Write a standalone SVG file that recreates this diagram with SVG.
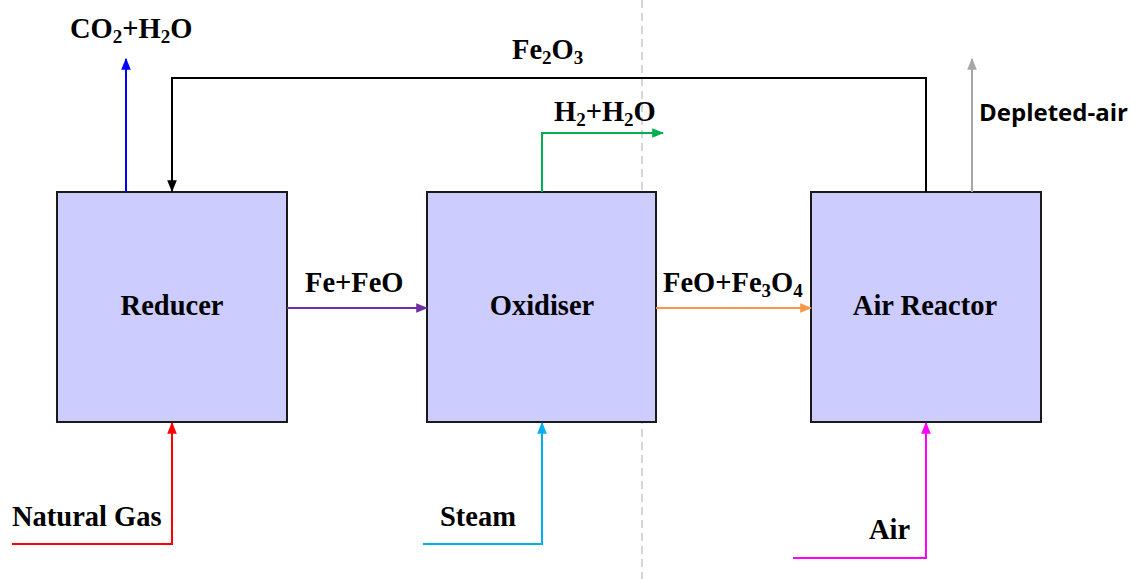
<svg xmlns="http://www.w3.org/2000/svg" width="1137" height="579" viewBox="0 0 1137 579">
<style>
.box{fill:#ccccff;stroke:#1a1a1a;stroke-width:2}
.lbl{font-family:"Liberation Serif","Times New Roman",serif;font-weight:bold;font-size:28.5px;fill:#000}
.sub{font-size:19px}
.ln{fill:none;stroke-width:2}
.sans{font-family:"Open Sans","Liberation Sans",sans-serif;font-weight:bold;font-size:24px;fill:#000}
</style>
<defs>
<marker id="aBlack" markerUnits="userSpaceOnUse" markerWidth="12" markerHeight="12" refX="9" refY="5" orient="auto" viewBox="0 0 10 10"><path d="M0,1 L10,5 L0,9 z" fill="#000"/></marker>
<marker id="aBlue" markerUnits="userSpaceOnUse" markerWidth="12" markerHeight="12" refX="9" refY="5" orient="auto" viewBox="0 0 10 10"><path d="M0,1 L10,5 L0,9 z" fill="#0000ff"/></marker>
<marker id="aGreen" markerUnits="userSpaceOnUse" markerWidth="12" markerHeight="12" refX="9" refY="5" orient="auto" viewBox="0 0 10 10"><path d="M0,1 L10,5 L0,9 z" fill="#00b050"/></marker>
<marker id="aGray" markerUnits="userSpaceOnUse" markerWidth="12" markerHeight="12" refX="9" refY="5" orient="auto" viewBox="0 0 10 10"><path d="M0,1 L10,5 L0,9 z" fill="#a6a6a6"/></marker>
<marker id="aPurple" markerUnits="userSpaceOnUse" markerWidth="12" markerHeight="12" refX="9" refY="5" orient="auto" viewBox="0 0 10 10"><path d="M0,1 L10,5 L0,9 z" fill="#7030a0"/></marker>
<marker id="aOrange" markerUnits="userSpaceOnUse" markerWidth="12" markerHeight="12" refX="9" refY="5" orient="auto" viewBox="0 0 10 10"><path d="M0,1 L10,5 L0,9 z" fill="#f79646"/></marker>
<marker id="aRed" markerUnits="userSpaceOnUse" markerWidth="12" markerHeight="12" refX="9" refY="5" orient="auto" viewBox="0 0 10 10"><path d="M0,1 L10,5 L0,9 z" fill="#ff0000"/></marker>
<marker id="aCyan" markerUnits="userSpaceOnUse" markerWidth="12" markerHeight="12" refX="9" refY="5" orient="auto" viewBox="0 0 10 10"><path d="M0,1 L10,5 L0,9 z" fill="#00b0f0"/></marker>
<marker id="aMag" markerUnits="userSpaceOnUse" markerWidth="12" markerHeight="12" refX="9" refY="5" orient="auto" viewBox="0 0 10 10"><path d="M0,1 L10,5 L0,9 z" fill="#ff00ff"/></marker>
</defs>
<rect width="1137" height="579" fill="#fff"/>
<line x1="642" y1="0" x2="642" y2="579" stroke="#bfbfbf" stroke-width="1.3" stroke-dasharray="8,5"/>

<g id="reducer"><rect class="box" x="57" y="192" width="230" height="230"/><text class="lbl" x="172" y="315" text-anchor="middle">Reducer</text></g>
<g id="oxidiser"><rect class="box" x="427" y="192" width="229" height="230"/><text class="lbl" x="542" y="315" text-anchor="middle">Oxidiser</text></g>
<g id="air-reactor"><rect class="box" x="811" y="192" width="230" height="230"/><text class="lbl" x="925" y="315" text-anchor="middle">Air Reactor</text></g>

<g id="connectors">
<path class="ln" d="M126,192 V59" stroke="#0000ff" marker-end="url(#aBlue)"/>
<path class="ln" d="M926,192 V78 H172 V191" stroke="#000" marker-end="url(#aBlack)"/>
<path class="ln" d="M542,192 V133 H663" stroke="#00b050" marker-end="url(#aGreen)"/>
<path class="ln" d="M972,192 V59" stroke="#a6a6a6" marker-end="url(#aGray)"/>
<path class="ln" d="M287,308 H427" stroke="#7030a0" marker-end="url(#aPurple)"/>
<path class="ln" d="M656,308 H811" stroke="#f79646" marker-end="url(#aOrange)"/>
<path class="ln" d="M12,544 H172 V423" stroke="#ff0000" marker-end="url(#aRed)"/>
<path class="ln" d="M423,544 H542 V423" stroke="#00b0f0" marker-end="url(#aCyan)"/>
<path class="ln" d="M793,558 H926 V423" stroke="#ff00ff" marker-end="url(#aMag)"/>
</g>

<g id="labels">
<text class="lbl" x="70" y="38">CO<tspan class="sub" dy="5">2</tspan><tspan dy="-5">+H</tspan><tspan class="sub" dy="5">2</tspan><tspan dy="-5">O</tspan></text>
<text class="lbl" x="512" y="59">Fe<tspan class="sub" dy="5">2</tspan><tspan dy="-5">O</tspan><tspan class="sub" dy="5">3</tspan></text>
<text class="lbl" x="554" y="121">H<tspan class="sub" dy="5">2</tspan><tspan dy="-5">+H</tspan><tspan class="sub" dy="5">2</tspan><tspan dy="-5">O</tspan></text>
<text class="sans" x="979" y="121">Depleted-air</text>
<text class="lbl" x="305" y="292">Fe+FeO</text>
<text class="lbl" x="663" y="292">FeO+Fe<tspan class="sub" dy="5">3</tspan><tspan dy="-5">O</tspan><tspan class="sub" dy="5">4</tspan></text>
<text class="lbl" x="12" y="526">Natural Gas</text>
<text class="lbl" x="440" y="526">Steam</text>
<text class="lbl" x="869" y="539">Air</text>
</g>
</svg>
